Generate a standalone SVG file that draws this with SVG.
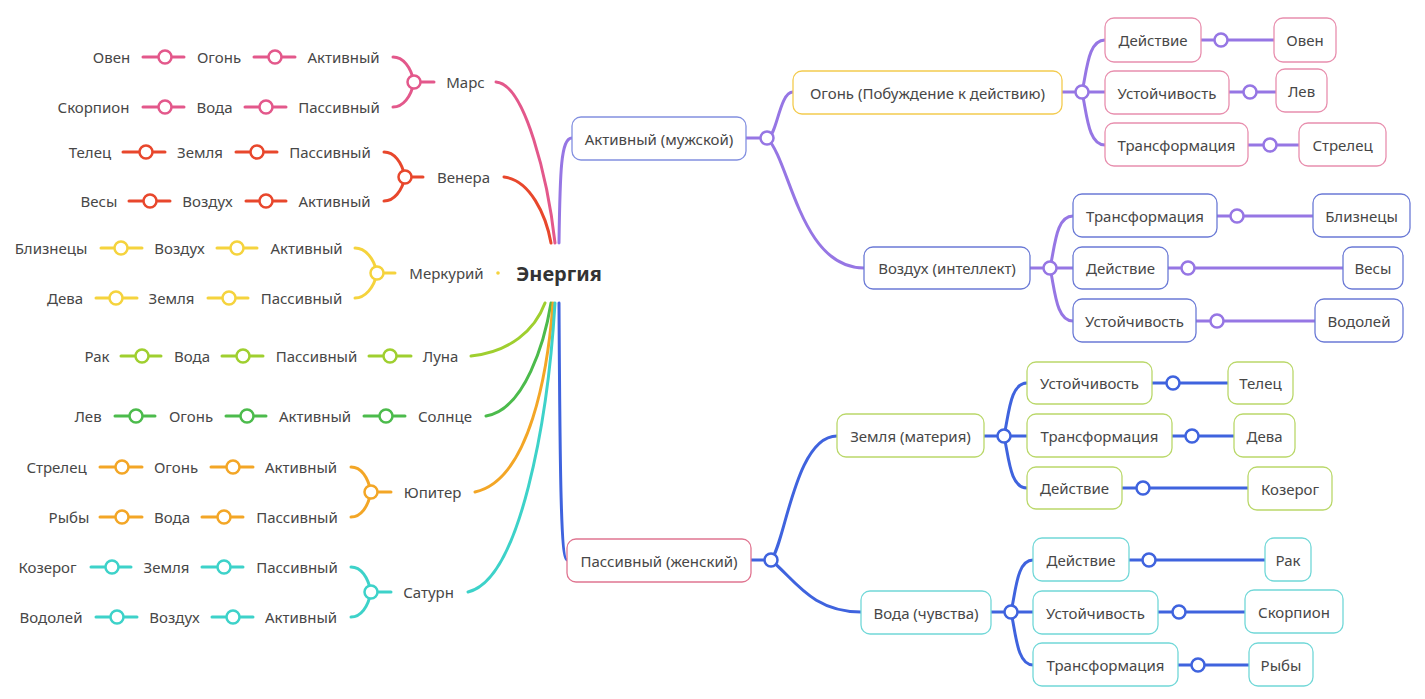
<svg xmlns="http://www.w3.org/2000/svg" width="1425" height="699" viewBox="0 0 1425 699">
<style>
text{font-family:"Noto Sans","Liberation Sans",sans-serif;font-size:15px;fill:#474747;text-anchor:middle;dominant-baseline:central}
.title{font-size:20px;font-weight:bold;fill:#333}
path,line{fill:none;stroke-linecap:round}
.c{fill:none;stroke-width:3}
.j{fill:#fff;stroke-width:2.5}
.pk{stroke:#e3588b}.rd{stroke:#e8472c}.yl{stroke:#f5d33d}.lg{stroke:#9fcf2f}.gn{stroke:#4cbb4c}.or{stroke:#f3a626}.cy{stroke:#3dd2c9}.pu{stroke:#9676e4}.bl{stroke:#3f63de}
.box{fill:#fff;stroke-width:1.3}
.bA{stroke:#8390e0}.bF{stroke:#f3cb4f}.bFc{stroke:#e88fae}.bAi{stroke:#6b7ad6}.bP{stroke:#e07591}.bE{stroke:#bad86a}.bW{stroke:#72d8d8}
</style>
<g id="connectors">
<path class="c pk" d="M143,57H184M254,57H295M143,107H184M245,107H286M393,57C403,57 411,67 414,82M393,107C403,107 411,97 414,82M414,82H434M496,82C525,84 548,180 555,243"/>
<circle class="j pk" cx="165" cy="57" r="6.5"/><circle class="j pk" cx="275" cy="57" r="6.5"/><circle class="j pk" cx="165" cy="107" r="6.5"/><circle class="j pk" cx="266" cy="107" r="6.5"/><circle class="j pk" cx="414" cy="82" r="6.5"/>
<path class="c rd" d="M123,152H165M236,152H277M129,201H170M246,201H286M384,152C394,152 402,162 405,177M384,201C394,201 402,191 405,177M405,177H423M504,177C530,180 546,215 551,243"/>
<circle class="j rd" cx="146" cy="152" r="6.5"/><circle class="j rd" cx="257" cy="152" r="6.5"/><circle class="j rd" cx="150" cy="201" r="6.5"/><circle class="j rd" cx="266" cy="201" r="6.5"/><circle class="j rd" cx="405" cy="177" r="6.5"/>
<path class="c yl" d="M101,248H142M217,248H257M96,298H137M208,298H248M355,248C365,248 374,258 377,273M355,298C365,298 374,288 377,273M377,273H395"/>
<circle class="j yl" cx="121" cy="248" r="6.5"/><circle class="j yl" cx="237" cy="248" r="6.5"/><circle class="j yl" cx="116" cy="298" r="6.5"/><circle class="j yl" cx="229" cy="298" r="6.5"/><circle class="j yl" cx="377" cy="273" r="6.5"/>
<circle cx="498" cy="273" r="1.8" fill="#f5d33d"/>
<path class="c lg" d="M121,356H161M222,356H263M369,356H411M471,356C510,352 535,330 545,303"/>
<circle class="j lg" cx="142" cy="356" r="6.5"/><circle class="j lg" cx="243" cy="356" r="6.5"/><circle class="j lg" cx="390" cy="356" r="6.5"/>
<path class="c gn" d="M115,416H155M226,416H266M364,416H405M486,416C525,410 545,340 551,303"/>
<circle class="j gn" cx="136" cy="416" r="6.5"/><circle class="j gn" cx="247" cy="416" r="6.5"/><circle class="j gn" cx="386" cy="416" r="6.5"/>
<path class="c or" d="M100,467H142M211,467H253M100,517H142M202,517H243M351,467C361,467 368,477 371,492M351,517C361,517 368,507 371,492M371,492H391M475,492C530,480 548,370 553,303"/>
<circle class="j or" cx="122" cy="467" r="6.5"/><circle class="j or" cx="233" cy="467" r="6.5"/><circle class="j or" cx="122" cy="517" r="6.5"/><circle class="j or" cx="224" cy="517" r="6.5"/><circle class="j or" cx="371" cy="492" r="6.5"/>
<path class="c cy" d="M91,567H131M202,567H243M96,617H137M212,617H253M351,567C361,567 368,577 371,592M351,617C361,617 368,607 371,592M371,592H391M468,592C520,580 548,420 555,303"/>
<circle class="j cy" cx="112" cy="567" r="6.5"/><circle class="j cy" cx="224" cy="567" r="6.5"/><circle class="j cy" cx="117" cy="617" r="6.5"/><circle class="j cy" cx="233" cy="617" r="6.5"/><circle class="j cy" cx="371" cy="592" r="6.5"/>
<path class="c pu" d="M559,243C560,170 561,138 572,138M746,138H767M767,138C777,138 779,92 793,92M767,138C790,160 800,268 864,268
M1062,92H1082M1082,92C1087,70 1088,40 1105,40M1082,92H1105M1082,92C1087,114 1088,145 1105,145
M1201,40H1274M1229,92H1276M1248,145H1299
M1030,268H1050M1050,268C1055,246 1056,216 1073,216M1050,268H1073M1050,268C1055,290 1056,321 1073,321
M1217,216H1313M1168,268H1343M1196,321H1315"/>
<circle class="j pu" cx="767" cy="138" r="6.5"/><circle class="j pu" cx="1082" cy="92" r="6.5"/><circle class="j pu" cx="1221" cy="40" r="6.5"/><circle class="j pu" cx="1250" cy="92" r="6.5"/><circle class="j pu" cx="1270" cy="145" r="6.5"/>
<circle class="j pu" cx="1050" cy="268" r="6.5"/><circle class="j pu" cx="1237" cy="216" r="6.5"/><circle class="j pu" cx="1188" cy="268" r="6.5"/><circle class="j pu" cx="1217" cy="321" r="6.5"/>
<path class="c bl" d="M559,303C560,480 561,560 567,560M751,560H771M771,560C785,545 795,436 837,436M771,560C795,580 812,612 861,612
M984,436H1004M1004,436C1009,414 1010,383 1027,383M1004,436H1027M1004,436C1009,458 1010,488 1027,488
M1152,383H1228M1172,436H1234M1122,488H1248
M991,612H1011M1011,612C1016,590 1017,560 1033,560M1011,612H1033M1011,612C1016,634 1017,665 1033,665
M1129,560H1265M1158,612H1245M1178,665H1249"/>
<circle class="j bl" cx="771" cy="560" r="6.5"/><circle class="j bl" cx="1004" cy="436" r="6.5"/><circle class="j bl" cx="1173" cy="383" r="6.5"/><circle class="j bl" cx="1192" cy="436" r="6.5"/><circle class="j bl" cx="1143" cy="488" r="6.5"/>
<circle class="j bl" cx="1011" cy="612" r="6.5"/><circle class="j bl" cx="1149" cy="560" r="6.5"/><circle class="j bl" cx="1179" cy="612" r="6.5"/><circle class="j bl" cx="1198" cy="665" r="6.5"/>
</g>
<g id="center"><text class="title" x="559" y="273">Энергия</text></g>
<g id="mars">
<text x="111.5" y="57">Овен</text><text x="219" y="57">Огонь</text><text x="343.5" y="57">Активный</text>
<text x="93.5" y="107">Скорпион</text><text x="214.5" y="107">Вода</text><text x="339" y="107">Пассивный</text>
<text x="465.5" y="82">Марс</text>
</g>
<g id="venus">
<text x="90" y="152">Телец</text><text x="200" y="152">Земля</text><text x="330" y="152">Пассивный</text>
<text x="99" y="201">Весы</text><text x="207.5" y="201">Воздух</text><text x="334.5" y="201">Активный</text>
<text x="463.5" y="177">Венера</text>
</g>
<g id="mercury">
<text x="51" y="248">Близнецы</text><text x="179.5" y="248">Воздух</text><text x="306.5" y="248">Активный</text>
<text x="65" y="298">Дева</text><text x="171.5" y="298">Земля</text><text x="301.5" y="298">Пассивный</text>
<text x="446.5" y="273">Меркурий</text>
</g>
<g id="moon">
<text x="97" y="356">Рак</text><text x="192" y="356">Вода</text><text x="316.5" y="356">Пассивный</text><text x="440.5" y="356">Луна</text>
</g>
<g id="sun">
<text x="88" y="416">Лев</text><text x="191" y="416">Огонь</text><text x="315" y="416">Активный</text><text x="445" y="416">Солнце</text>
</g>
<g id="jupiter">
<text x="56.5" y="467">Стрелец</text><text x="176" y="467">Огонь</text><text x="301" y="467">Активный</text>
<text x="69" y="517">Рыбы</text><text x="172" y="517">Вода</text><text x="297" y="517">Пассивный</text>
<text x="432.5" y="492">Юпитер</text>
</g>
<g id="saturn">
<text x="47.5" y="567">Козерог</text><text x="166.5" y="567">Земля</text><text x="297" y="567">Пассивный</text>
<text x="51" y="617">Водолей</text><text x="174.5" y="617">Воздух</text><text x="301" y="617">Активный</text>
<text x="428.5" y="592">Сатурн</text>
</g>
<g id="active">
<rect class="box bA" x="572" y="117" width="174" height="43" rx="9"/><text x="659" y="138.5">Активный (мужской)</text>
</g>
<g id="fire">
<rect class="box bF" x="793" y="71" width="269" height="43" rx="9"/><text x="927.5" y="92.5">Огонь (Побуждение к действию)</text>
</g>
<g id="fire-children">
<rect class="box bFc" x="1105" y="18" width="96" height="44" rx="9"/><text x="1153" y="40">Действие</text>
<rect class="box bFc" x="1105" y="71" width="124" height="43" rx="9"/><text x="1167" y="92.5">Устойчивость</text>
<rect class="box bFc" x="1105" y="123" width="143" height="43" rx="9"/><text x="1176.5" y="144.5">Трансформация</text>
<rect class="box bFc" x="1274" y="18" width="62" height="44" rx="9"/><text x="1305" y="40">Овен</text>
<rect class="box bFc" x="1276" y="69" width="51" height="43" rx="9"/><text x="1301.5" y="90.5">Лев</text>
<rect class="box bFc" x="1299" y="123" width="87" height="43" rx="9"/><text x="1342.5" y="144.5">Стрелец</text>
</g>
<g id="air">
<rect class="box bAi" x="864" y="247" width="166" height="42" rx="9"/><text x="947" y="268">Воздух (интеллект)</text>
</g>
<g id="air-children">
<rect class="box bAi" x="1073" y="194" width="144" height="43" rx="9"/><text x="1145" y="215.5">Трансформация</text>
<rect class="box bAi" x="1073" y="247" width="95" height="42" rx="9"/><text x="1120.5" y="268">Действие</text>
<rect class="box bAi" x="1073" y="299" width="123" height="43" rx="9"/><text x="1134.5" y="320.5">Устойчивость</text>
<rect class="box bAi" x="1313" y="194" width="97" height="43" rx="9"/><text x="1361.5" y="215.5">Близнецы</text>
<rect class="box bAi" x="1343" y="247" width="60" height="42" rx="9"/><text x="1373" y="268">Весы</text>
<rect class="box bAi" x="1315" y="299" width="88" height="43" rx="9"/><text x="1359" y="320.5">Водолей</text>
</g>
<g id="passive">
<rect class="box bP" x="567" y="539" width="184" height="43" rx="9"/><text x="659" y="560.5">Пассивный (женский)</text>
</g>
<g id="earth">
<rect class="box bE" x="837" y="414" width="147" height="43" rx="9"/><text x="910.5" y="435.5">Земля (материя)</text>
</g>
<g id="earth-children">
<rect class="box bE" x="1027" y="362" width="125" height="42" rx="9"/><text x="1089.5" y="383">Устойчивость</text>
<rect class="box bE" x="1027" y="414" width="145" height="43" rx="9"/><text x="1099.5" y="435.5">Трансформация</text>
<rect class="box bE" x="1027" y="467" width="95" height="42" rx="9"/><text x="1074.5" y="488">Действие</text>
<rect class="box bE" x="1228" y="362" width="65" height="42" rx="9"/><text x="1260.5" y="383">Телец</text>
<rect class="box bE" x="1234" y="414" width="61" height="43" rx="9"/><text x="1264.5" y="435.5">Дева</text>
<rect class="box bE" x="1248" y="467" width="84" height="43" rx="9"/><text x="1290" y="488.5">Козерог</text>
</g>
<g id="water">
<rect class="box bW" x="861" y="591" width="130" height="43" rx="9"/><text x="926" y="612.5">Вода (чувства)</text>
</g>
<g id="water-children">
<rect class="box bW" x="1033" y="538" width="96" height="43" rx="9"/><text x="1081" y="559.5">Действие</text>
<rect class="box bW" x="1033" y="591" width="125" height="43" rx="9"/><text x="1095.5" y="612.5">Устойчивость</text>
<rect class="box bW" x="1033" y="643" width="145" height="43" rx="9"/><text x="1105.5" y="664.5">Трансформация</text>
<rect class="box bW" x="1265" y="538" width="46" height="43" rx="9"/><text x="1288" y="559.5">Рак</text>
<rect class="box bW" x="1245" y="590" width="98" height="43" rx="9"/><text x="1294" y="611.5">Скорпион</text>
<rect class="box bW" x="1249" y="643" width="64" height="43" rx="9"/><text x="1281" y="664.5">Рыбы</text>
</g>
</svg>
